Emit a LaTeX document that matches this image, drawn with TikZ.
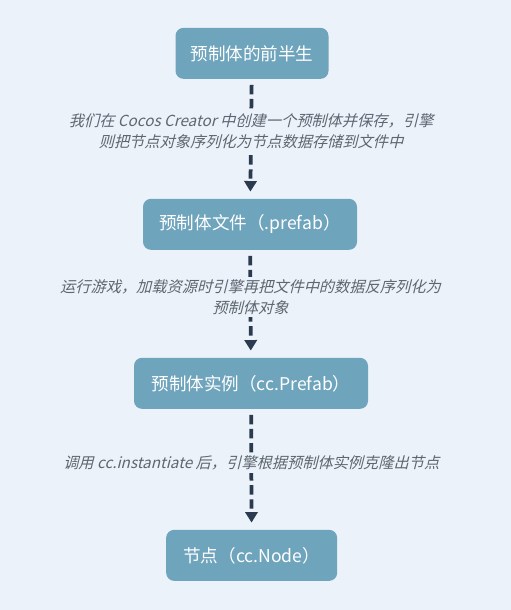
\documentclass[tikz,border=0pt]{standalone}
\usepackage{fontspec}
\setmainfont{Noto Sans CJK SC}
\newfontfamily\slantcjk[FakeSlant=0.25]{Noto Sans CJK SC}
\usetikzlibrary{arrows.meta, positioning}

\definecolor{bgblue}{HTML}{EBF2F9}
\definecolor{boxblue}{HTML}{6FA4BD}
\definecolor{arrownavy}{HTML}{2B3A4E}
\definecolor{labelgrey}{HTML}{5E6670}

\begin{document}
\begin{tikzpicture}[
    stage/.style={rectangle, rounded corners=0.24cm, fill=boxblue, text=white,
                  minimum height=1.53cm, font=\fontsize{15pt}{18pt}\selectfont},
    flow/.style={arrownavy, line width=3.2pt, dash pattern=on 8pt off 4pt,
                 -{Triangle[width=10.5pt, length=9pt]},
                 shorten <=5pt, shorten >=6pt},
    steplabel/.style={fill=bgblue, text=labelgrey, align=center, inner sep=2pt,
                      font=\slantcjk\fontsize{13pt}{18pt}\selectfont}
]
    % background and page size
    \fill[bgblue] (0,0) rectangle (15.33,-18.3);
    \useasboundingbox (0,0) rectangle (15.33,-18.3);

    % the four stages
    \node at (7.56, -1.6) [stage, minimum width=4.59cm] (half) {预制体的前半生};
    \node at (7.5, -6.73) [stage, minimum width=6.42cm] (file) {预制体文件（.prefab）};
    \node at (7.53, -11.5) [stage, minimum width=7.02cm] (asset) {预制体实例（cc.Prefab）};
    \node at (7.55, -16.66) [stage, minimum width=5.13cm] (node) {节点（cc.Node）};

    % dashed arrows with their labels
    \draw[flow] (half) -- node[steplabel, pos=0.44]
        {我们在 Cocos Creator 中创建一个预制体并保存，引擎\\则把节点对象序列化为节点数据存储到文件中} (file);
    \draw[flow] (file) -- node[steplabel, pos=0.44]
        {运行游戏，加载资源时引擎再把文件中的数据反序列化为\\预制体对象} (asset);
    \draw[flow] (asset) -- node[steplabel, pos=0.45]
        {调用 cc.instantiate 后，引擎根据预制体实例克隆出节点} (node);
\end{tikzpicture}
\end{document}
